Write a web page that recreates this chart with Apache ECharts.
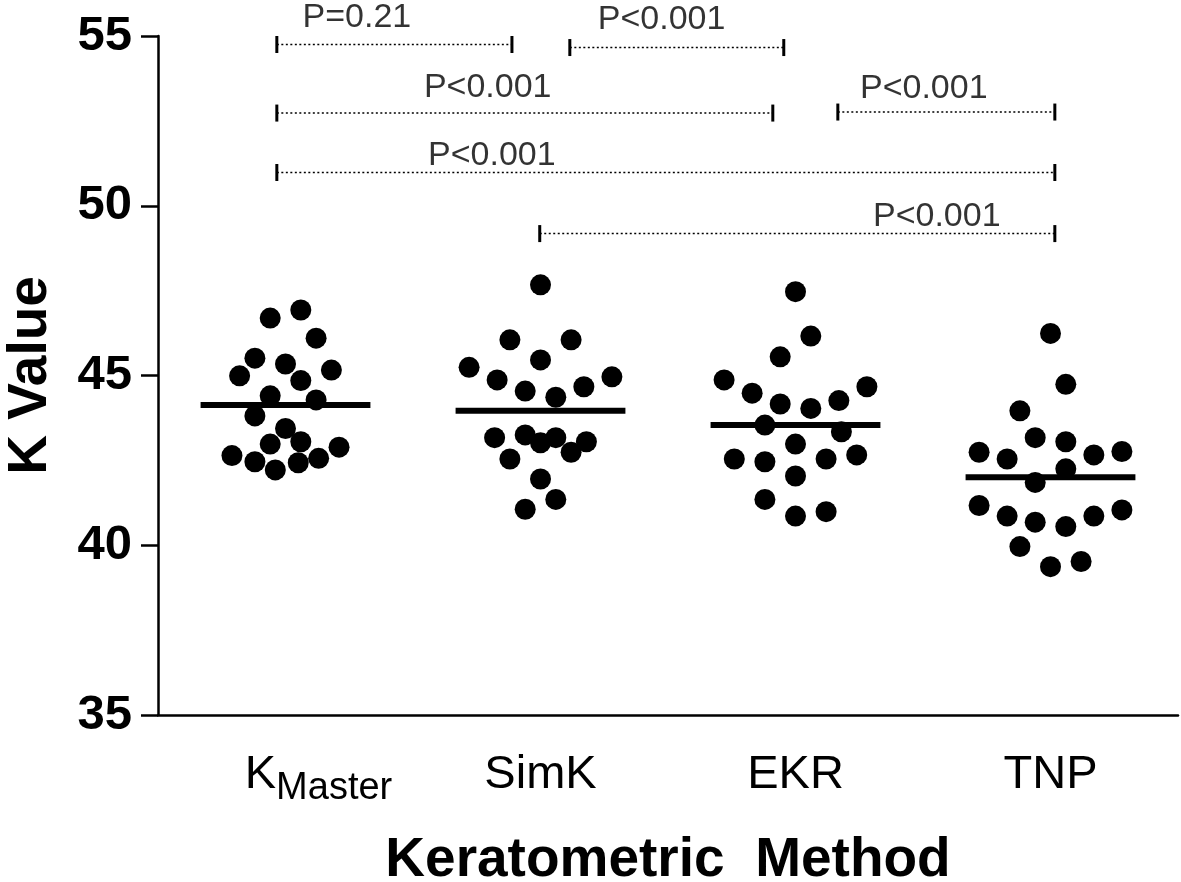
<!DOCTYPE html>
<html>
<head>
<meta charset="utf-8">
<script src="https://cdn.jsdelivr.net/npm/echarts@6/dist/echarts.min.js"></script>
<style>
  html, body { margin: 0; background: #fff; }
  #chart { width: 1181px; height: 882px; }
</style>
</head>
<body>
<div id="chart"></div>
<script>
// categorias del eje x
const categories = ["KMaster", "SimK", "EKR", "TNP"];

// valores K por metodo y desplazamiento horizontal de cada punto
const kmasterValues = [46.69, 46.93, 46.10, 45.51, 45.34, 45.16, 44.99, 44.85, 44.40, 44.28,
  43.81, 43.44, 42.98, 43.05, 42.89, 42.64, 42.46, 42.22, 42.43, 42.56];
const kmasterJitter = [-0.06, 0.06, 0.12, -0.12, 0, 0.18, -0.18, 0.06, -0.06, 0.12,
  -0.12, 0, -0.06, 0.06, 0.21, -0.21, -0.12, -0.04, 0.05, 0.13];

const simkValues = [47.67, 46.05, 46.05, 45.46, 45.24, 44.87, 44.96, 44.54, 44.36, 44.67,
  43.17, 43.25, 43.02, 43.17, 43.05, 42.74, 42.54, 41.95, 41.35, 41.06];
const simkJitter = [0, -0.12, 0.12, 0, -0.28, -0.17, 0.28, -0.06, 0.06, 0.17,
  -0.18, -0.06, 0, 0.06, 0.18, 0.12, -0.12, 0, 0.06, -0.06];

const ekrValues = [47.47, 46.16, 45.55, 44.87, 44.48, 44.67, 44.16, 44.03, 44.26, 43.54,
  43.34, 42.98, 42.54, 42.46, 42.54, 42.66, 42.04, 41.35, 40.86, 40.99];
const ekrJitter = [0, 0.06, -0.06, -0.28, -0.17, 0.28, -0.06, 0.06, 0.17, -0.12,
  0.18, 0, -0.24, -0.12, 0.12, 0.24, 0, -0.12, 0, 0.12];

const tnpValues = [46.24, 44.74, 43.96, 43.17, 43.05, 42.74, 42.54, 42.66, 42.76, 42.25,
  41.85, 41.17, 40.86, 40.68, 40.55, 40.86, 41.04, 39.96, 39.37, 39.52];
const tnpJitter = [0, 0.06, -0.12, -0.06, 0.06, -0.28, -0.17, 0.17, 0.28, 0.06,
  -0.06, -0.28, -0.17, -0.06, 0.06, 0.17, 0.28, -0.12, 0, 0.12];

// medias (linea horizontal)
const meanValues = [44.13, 43.96, 43.54, 42.00];

// comparaciones (corchetes punteados)
const pLabels = ["P=0.21", "P<0.001", "P<0.001", "P<0.001", "P<0.001", "P<0.001"];
const pFrom = [0.466, 1.615, 0.466, 2.666, 0.466, 1.497];
const pTo = [1.388, 2.454, 2.411, 3.517, 3.517, 3.517];
const pLineY = [54.75, 54.66, 52.73, 52.76, 50.98, 49.18];
const pTextX = [0.780, 1.975, 1.293, 3.003, 1.309, 3.054];
const pTextY = [55.53, 55.47, 53.47, 53.44, 51.49, 49.68];

const groups = [
  [kmasterValues, kmasterJitter],
  [simkValues, simkJitter],
  [ekrValues, ekrJitter],
  [tnpValues, tnpJitter],
];

const sans = "'Liberation Sans', Arial, sans-serif";

const chartInstance = echarts.init(document.getElementById("chart"));

const series = [];

// puntos
groups.forEach(([vals, jit], i) => {
  series.push({
    type: "scatter",
    xAxisIndex: 1,
    symbol: "circle",
    symbolSize: 21,
    itemStyle: { color: "#000", opacity: 1 },
    data: vals.map((v, k) => [i + 0.5 + jit[k], v]),
  });
});

// medias
meanValues.forEach((m, i) => {
  series.push({
    type: "line",
    xAxisIndex: 1,
    symbol: "none",
    z: 3,
    lineStyle: { color: "#000", width: 6 },
    data: [[i + 0.5 - 0.333, m], [i + 0.5 + 0.333, m]],
  });
});

// corchetes
pLabels.forEach((_, j) => {
  series.push({
    type: "line",
    xAxisIndex: 1,
    symbol: "rect",
    symbolSize: [3, 17],
    itemStyle: { color: "#000" },
    lineStyle: { color: "#000", width: 1.5, type: [2, 2.5] },
    data: [[pFrom[j], pLineY[j]], [pTo[j], pLineY[j]]],
  });
});

// textos P
series.push({
  type: "scatter",
  xAxisIndex: 1,
  symbolSize: 0,
  clip: false,
  label: {
    show: true,
    position: "inside",
    formatter: (p) => p.name,
    color: "#000",
    fontFamily: sans,
    fontSize: 34,
  },
  data: pLabels.map((t, j) => ({ name: t, value: [pTextX[j], pTextY[j]] })),
});

const option = {
  animation: false,
  backgroundColor: "#fff",
  grid: { left: 158, right: 3, top: 36, bottom: 167, outerBoundsMode: "none" },
  xAxis: [
    {
      type: "category",
      data: categories,
      boundaryGap: true,
      axisLine: { lineStyle: { color: "#000", width: 2.5 } },
      axisTick: { alignWithLabel: true, length: 19, lineStyle: { color: "#000", width: 2.5 } },
      axisLabel: {
        interval: 0,
        hideOverlap: false,
        margin: 37,
        color: "#000",
        fontFamily: sans,
        fontSize: 47,
        formatter: (v) => (v === "KMaster" ? "{k|K}{s|Master}" : v),
        rich: {
          k: { fontFamily: sans, fontSize: 47, color: "#000", verticalAlign: "top", padding: [0, 0, 0, 66] },
          s: { fontFamily: sans, fontSize: 38, color: "#000", verticalAlign: "bottom", padding: [18, 0, 0, 0] },
        },
      },
      name: "Keratometric  Method",
      nameLocation: "middle",
      nameGap: 118,
      nameTextStyle: { color: "#000", fontFamily: sans, fontWeight: "bold", fontSize: 55 },
      splitLine: { show: false },
    },
    {
      type: "value",
      min: 0,
      max: 4,
      show: false,
    },
  ],
  yAxis: {
    type: "value",
    min: 35,
    max: 55,
    interval: 5,
    axisLine: { show: true, lineStyle: { color: "#000", width: 2.5 } },
    axisTick: { show: true, length: 17, lineStyle: { color: "#000", width: 2.5 } },
    axisLabel: { margin: 26, color: "#000", fontFamily: sans, fontWeight: "bold", fontSize: 49 },
    splitLine: { show: false },
    name: "K Value",
    nameLocation: "middle",
    nameGap: 100,
    nameTextStyle: { color: "#000", fontFamily: sans, fontWeight: "bold", fontSize: 55 },
  },
  series: series,
};

chartInstance.setOption(option);
</script>
</body>
</html>
